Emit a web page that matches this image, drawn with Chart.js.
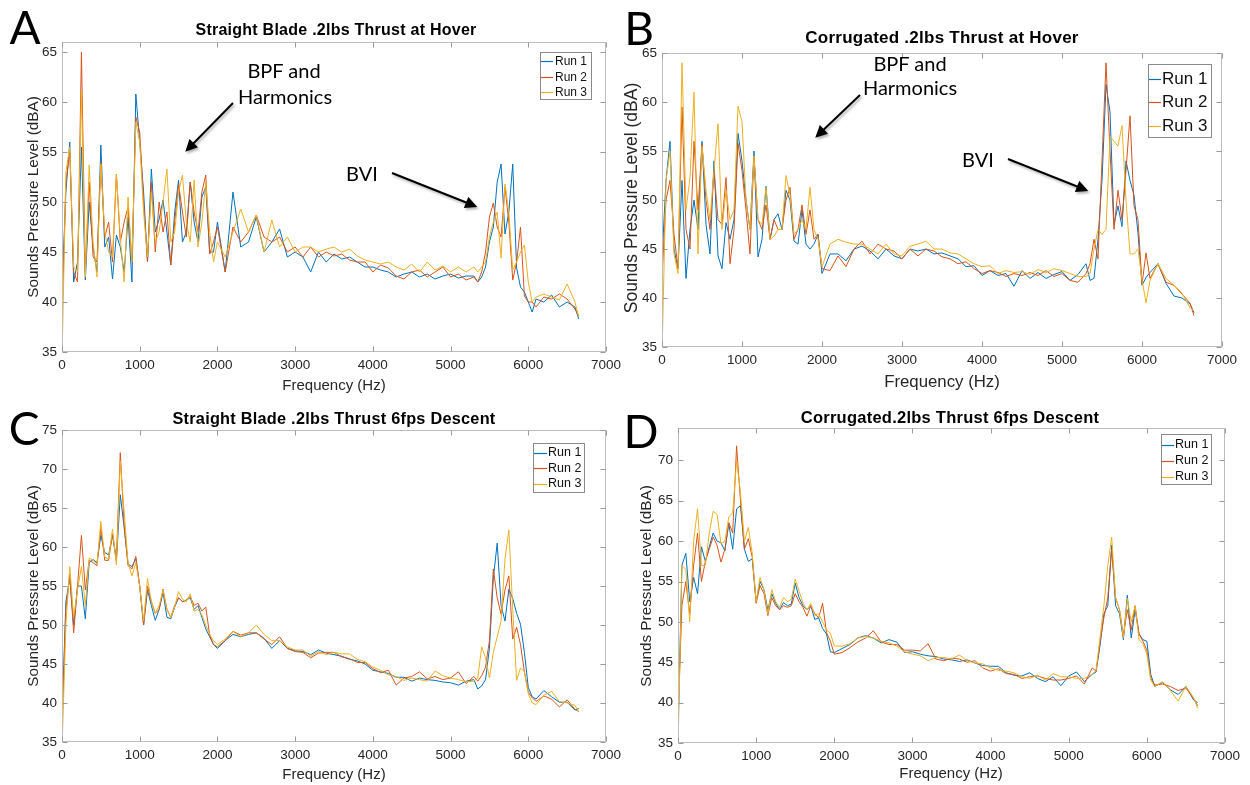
<!DOCTYPE html>
<html>
<head>
<meta charset="utf-8">
<script src="https://cdn.jsdelivr.net/npm/chart.js@4.4.1/dist/chart.umd.min.js"></script>
<style>
  body { margin:0; background:#fff; width:1250px; height:785px; position:relative; overflow:hidden;
         font-family:"Liberation Sans", Arial, sans-serif; }
  canvas { position:absolute; }
  .c { position:absolute; white-space:nowrap; transform:translate(-50%,-50%); z-index:5; }
  .ttl { font-weight:bold; color:#000; letter-spacing:0.25px; }
  .axt { color:#262626; }
  .rot { transform:translate(-50%,-50%) rotate(-90deg); }
  .big { font-family:Lato, "Open Sans", sans-serif; color:#000; }
  svg { position:absolute; left:0; top:0; z-index:6; }
</style>
</head>
<body>

<div class="c big" style="left:25px;top:26px;font-size:46px">A</div>
<div class="c big" style="left:639px;top:27px;font-size:46px">B</div>
<div class="c big" style="left:24px;top:427px;font-size:46px">C</div>
<div class="c big" style="left:641px;top:430px;font-size:46px">D</div>

<div class="c ttl" style="left:336px;top:30px;font-size:16px">Straight Blade .2lbs Thrust at Hover</div>
<div class="c ttl" style="left:942px;top:38px;font-size:17px">Corrugated .2lbs Thrust at Hover</div>
<div class="c ttl" style="left:334px;top:418px;font-size:16.3px">Straight Blade .2lbs Thrust 6fps Descent</div>
<div class="c ttl" style="left:950px;top:417px;font-size:16.5px">Corrugated.2lbs Thrust 6fps Descent</div>

<div class="c axt rot" style="left:33px;top:197px;font-size:15.3px">Sounds Pressure Level (dBA)</div>
<div class="c axt rot" style="left:631px;top:198px;font-size:17.5px">Sounds Pressure Level (dBA)</div>
<div class="c axt rot" style="left:33px;top:586px;font-size:15.3px">Sounds Pressure Level (dBA)</div>
<div class="c axt rot" style="left:646px;top:586px;font-size:15.3px">Sounds Pressure Level (dBA)</div>

<div class="c axt" style="left:334px;top:384px;font-size:15px">Frequency (Hz)</div>
<div class="c axt" style="left:942px;top:382px;font-size:16.8px">Frequency (Hz)</div>
<div class="c axt" style="left:334px;top:773px;font-size:15px">Frequency (Hz)</div>
<div class="c axt" style="left:951px;top:772px;font-size:15px">Frequency (Hz)</div>

<div class="c big" style="left:284px;top:70px;font-size:20px">BPF and</div>
<div class="c big" style="left:285px;top:96px;font-size:20px">Harmonics</div>
<div class="c big" style="left:362px;top:173px;font-size:20px">BVI</div>
<div class="c big" style="left:910px;top:63px;font-size:20px">BPF and</div>
<div class="c big" style="left:910px;top:87px;font-size:20px">Harmonics</div>
<div class="c big" style="left:978px;top:159px;font-size:20px">BVI</div>

<svg width="1250" height="785">
  <defs>
    <filter id="sh" x="-20%" y="-20%" width="140%" height="140%">
      <feDropShadow dx="1.5" dy="2" stdDeviation="1.2" flood-color="#000" flood-opacity="0.3"/>
    </filter>
    <marker id="ah" viewBox="0 0 10 10" refX="8" refY="5" markerWidth="7" markerHeight="6" orient="auto">
      <path d="M0,0 L10,5 L0,10 z" fill="#000"/>
    </marker>
  </defs>
  <g stroke="#000" stroke-width="2" filter="url(#sh)">
    <line x1="233" y1="103" x2="187" y2="150" marker-end="url(#ah)"/>
    <line x1="392" y1="173" x2="475" y2="206" marker-end="url(#ah)"/>
    <line x1="860" y1="95" x2="817" y2="136" marker-end="url(#ah)"/>
    <line x1="1008" y1="159" x2="1086" y2="190" marker-end="url(#ah)"/>
  </g>
</svg>

<script>
// frequency grid shared by every run (Hz)
const freqHz = [0, 50, 100, 150, 200, 250, 300, 350, 400, 450,
  500, 550, 600, 650, 700, 750, 800, 850, 900, 950,
  1000, 1050, 1100, 1150, 1200, 1250, 1300, 1350, 1400, 1450,
  1500, 1550, 1600, 1650, 1700, 1750, 1800, 1850, 1900, 1950,
  2000, 2100, 2200, 2300, 2400, 2500, 2600, 2700, 2800, 2900,
  3000, 3100, 3200, 3300, 3400, 3500, 3600, 3700, 3800, 3900,
  4000, 4100, 4200, 4300, 4400, 4500, 4600, 4700, 4800, 4900,
  5000, 5100, 5200, 5300, 5350, 5400, 5450, 5500, 5550, 5600,
  5650, 5700, 5750, 5800, 5850, 5900, 5950, 6000, 6050, 6100,
  6200, 6300, 6400, 6500, 6600, 6650];

const xTicks = [0, 1000, 2000, 3000, 4000, 5000, 6000, 7000];
const yTicksA = [35, 40, 45, 50, 55, 60, 65];
const yTicksB = [35, 40, 45, 50, 55, 60, 65];
const yTicksC = [35, 40, 45, 50, 55, 60, 65, 70, 75];
const yTicksD = [35, 40, 45, 50, 55, 60, 65, 70];
const runNames = ['Run 1', 'Run 2', 'Run 3'];
const runColors = ['#0072BD', '#D95319', '#EDB120'];

// A: straight blade, hover
const aRun1 = [41, 51, 56, 42, 44, 55.5, 42.2, 50, 45.5, 43,
  55.7, 45.5, 46.5, 42.3, 46.7, 45.5, 43, 48.5, 42, 60.8,
  56, 51, 44, 53.3, 47, 48.3, 50.2, 47, 43.7, 49,
  52.2, 46, 47, 52, 48, 46, 50.5, 51.5, 45, 45,
  48, 43, 51, 45.5, 46, 48.5, 45, 46, 47.3, 44.5,
  45, 44.5, 43, 45, 44, 44.8, 44.3, 44.5, 44, 43.5,
  43.5, 43.2, 43, 42.5, 42.8, 43, 42.5, 42.8, 42.3, 42.6,
  42.8, 42.4, 42.6, 42.6, 42, 42.5, 43.5, 46, 47.5, 52,
  53.8, 46.8, 49, 53.8, 43.4, 41.5, 41, 40, 39, 40.3,
  40, 40.7, 39.5, 40, 39.5, 38.3];
const aRun2 = [38, 52, 55, 43, 42, 65, 43, 52, 44.5, 44,
  54, 46.5, 48, 44, 52.8, 46, 48, 49.5, 44, 58.5,
  57, 50, 44, 52, 45, 50, 47, 49, 43.7, 48,
  51.8, 49, 46.5, 52, 49, 47, 51, 52.7, 44.8, 46,
  47.5, 43, 47.5, 46, 47, 48.7, 46.5, 46, 46.5, 45,
  45.5, 44.5, 45.5, 44.5, 45, 44.6, 44.8, 44.2, 44, 44,
  43, 43.7, 43.4, 42.6, 42.3, 43, 43.2, 42.5, 43, 43.5,
  42.5, 42.8, 42.2, 42.5, 42, 43, 45, 48.5, 49.9, 47.5,
  46.5, 51.5, 48, 42.2, 44, 47.5, 40.6, 40, 40, 39.5,
  40.5, 40.3, 40.8, 40.3, 39.3, 38.6];
const aRun3 = [34, 53, 55.5, 43.5, 43, 61, 42.5, 53.7, 46, 42.5,
  53.8, 47, 45, 44.5, 52.8, 46.5, 42, 50.5, 44, 58,
  56, 49, 44.5, 51, 46, 47, 50, 53.3, 46, 47,
  51, 52.7, 48, 46, 52.2, 45.5, 48, 52, 47, 44,
  46, 44.5, 47, 49.3, 47, 48.7, 45, 48.2, 45.5, 46.5,
  45, 45.5, 45.5, 45, 45.3, 45.5, 45, 45.3, 44.6, 44.2,
  44, 43.8, 44, 43.5, 43.2, 43.8, 43, 44, 43.2, 43.6,
  43, 43.5, 43, 43.5, 43, 43.5, 44, 46.5, 48, 49,
  44.4, 51.8, 49, 43.2, 44, 45, 45.7, 42, 40, 40.5,
  40.8, 40.5, 40.2, 41.8, 40, 38.5];

// B: corrugated, hover
const bRun1 = [44, 52, 56, 45, 43, 52, 42, 47, 50, 47,
  56, 47.5, 44.5, 54, 44.3, 43, 47.7, 46, 48, 56.8,
  54, 50, 47, 55, 44.2, 46, 51.4, 46, 48, 48.6,
  47, 51, 50, 45.8, 45.5, 49, 45.5, 45, 45.5, 46.5,
  42.5, 44.5, 44.5, 43.8, 45, 45.3, 44.8, 44, 45, 44.3,
  44, 45, 44.8, 45, 44.5, 44.6, 44.3, 44, 43.2, 43.3,
  42.3, 42.8, 42.3, 42.5, 41.2, 42.8, 42, 42.6, 42, 42.4,
  42.7, 41.8, 42.4, 43.5, 41.8, 42, 46, 52, 61.8, 59,
  47.5, 49.4, 47.3, 54, 52, 50.5, 46.6, 41.3, 42.1, 42.6,
  43.5, 41.5, 40.2, 40, 39.4, 38.5];
const bRun2 = [42, 50, 52, 46.5, 43, 59.5, 47, 45, 56, 49,
  55.7, 50, 47, 53, 48, 47.5, 52.3, 43.5, 47, 55.8,
  53, 49, 44.5, 54.5, 48, 47, 49.5, 46, 48, 47,
  47, 50, 51.3, 46, 47, 49.5, 46.5, 49, 46, 46.5,
  43, 42.8, 44.3, 43.2, 45, 45.8, 44.5, 45.5, 45, 44.8,
  44, 45, 44.3, 45, 44.8, 44.2, 44, 43.5, 43.7, 43,
  42.5, 42.8, 42.6, 42.2, 42.5, 42.3, 42.6, 42.3, 42.8, 42.2,
  42.5, 41.8, 41.6, 42.5, 43.5, 46, 44, 54, 64, 55,
  47, 51, 48, 53, 58.6, 49.4, 48, 41.4, 44.6, 42,
  43.5, 41.6, 41.3, 40.4, 39.5, 38.2];
const bRun3 = [34, 52, 55, 44.5, 42.5, 64, 49, 52.3, 61, 44.5,
  55.5, 51, 48, 53, 57.8, 47, 51, 48, 49, 59.6,
  58, 50, 47, 54.5, 48, 47.5, 51.3, 46, 46.3, 47,
  47, 52.5, 50.5, 46.5, 47, 48, 47, 51.3, 47, 46,
  43.2, 45.5, 46, 45.7, 45.5, 45.5, 45, 44.5, 45.5, 44.5,
  44.3, 45.3, 45.5, 45.8, 45, 45, 44.6, 44.5, 44, 43.5,
  43.2, 43.3, 42.5, 42.8, 42.6, 42.7, 42.4, 42.9, 42.6, 43,
  42.8, 42.5, 42.2, 42.2, 42.5, 45, 47, 46.5, 47, 56.5,
  56, 55.5, 57.6, 50, 44.5, 44.5, 45, 41.9, 39.5, 41.8,
  43.5, 42, 41.3, 40.5, 39, 38.7];

// C: straight blade, 6 fps descent
const cRun1 = [38, 53, 56, 50, 55, 55, 50.8, 58, 58.4, 58,
  61.5, 59.3, 59, 61.5, 58.2, 66.7, 62.5, 57.8, 57.5, 58.5,
  55, 50, 54.5, 52.5, 50.6, 52, 54.2, 51, 50.8, 52.3,
  53.5, 53, 53.2, 53.5, 52, 52.5, 51, 49.5, 48.5, 47.5,
  47, 48, 48.8, 48.5, 48.8, 49, 48.3, 47, 48, 47,
  46.7, 46.6, 46.2, 46.8, 46.4, 46.2, 46, 45.6, 45.4, 45,
  44.2, 44, 43.8, 43.3, 43.3, 42.8, 43.2, 43, 42.9, 42.7,
  42.6, 42.3, 42.8, 43, 41.8, 42.2, 43, 47, 56, 60.5,
  52.5, 50.5, 54.6, 53.4, 51.5, 50.1, 46.5, 42, 40.8, 40.5,
  41.6, 40.8, 40.1, 40.1, 39.1, 39.3];
const cRun2 = [37, 52, 56.5, 49, 55, 61.5, 54.5, 58.3, 58, 57.6,
  62.5, 58.3, 58.3, 61.7, 58.5, 72.1, 62.8, 57.6, 57.2, 58.8,
  55, 50, 55, 53, 51.5, 52, 54.6, 52, 51, 52.5,
  53.5, 53, 53.2, 53.7, 52.5, 52.8, 51.8, 52.3, 48.7, 47.5,
  47.2, 48, 49.2, 48.7, 49, 49, 48.2, 47.5, 48.5, 47,
  46.6, 46.5, 45.8, 46.4, 46.5, 46.5, 45.9, 45.7, 45.2, 45.2,
  44.4, 43.9, 44.2, 42.3, 43.2, 43.4, 44, 43.1, 43.4, 43,
  43.2, 44, 42.5, 43.4, 42.8, 43.5, 44.6, 48, 57.2, 53.5,
  51.4, 54.5, 56.3, 48.2, 49.7, 47.5, 44, 41.4, 40.7, 40.2,
  40.9, 40.5, 39.5, 40.4, 39.2, 38.9];
const cRun3 = [34, 50, 57.5, 51, 54.5, 57.5, 52.5, 58.6, 58.3, 57.8,
  63.3, 58.7, 58.5, 62.3, 57.7, 71, 64.5, 58, 56.3, 58,
  55, 50.5, 56, 53, 51.5, 52.5, 54.5, 52, 51, 52.3,
  54.3, 53.3, 53, 54, 51.8, 52, 51.3, 50, 48.8, 48,
  47.5, 48.2, 49.2, 48.5, 49, 50, 48.8, 48, 48, 47.2,
  46.8, 46.8, 46, 46.6, 46.2, 46.5, 46.3, 46.3, 45.6, 45.3,
  44.6, 44.2, 43.6, 43.4, 42.9, 43.2, 43, 42.8, 44.1, 43.5,
  43.2, 43, 42.7, 42.8, 43.2, 47.2, 45.8, 43.2, 46.5, 48.5,
  50.5, 58.5, 62.2, 52, 42.9, 44.5, 44, 41.2, 40, 39.8,
  41, 41.5, 40.2, 40, 39.7, 38.9];

// D: corrugated, 6 fps descent
const dRun1 = [36, 57, 58.5, 52.5, 55.5, 53.5, 59.3, 57.5, 59.3, 61,
  60, 59.8, 58.8, 62.2, 59, 64, 64.4, 59, 57.5, 57.8,
  52.5, 55, 54, 51.5, 53.5, 52.3, 51.5, 52.4, 52, 52.2,
  54.8, 53, 52, 51.5, 52, 50.3, 50.5, 49.2, 48.5, 46.3,
  46.2, 46.7, 47.2, 48, 48.3, 48, 47.4, 47.8, 47.5, 46.2,
  46.3, 46, 45.8, 45.7, 45.4, 45.3, 45.1, 45.3, 44.9, 44.6,
  44.5, 44.5, 43.7, 43.4, 43.3, 43.7, 43, 42.6, 43.2, 42.1,
  43.3, 43.8, 42.6, 43.5, 43.8, 47, 51, 52, 59.5, 52,
  51, 47.8, 53.3, 48, 51.5, 48.5, 47.8, 47.6, 43.5, 42,
  42.5, 41.6, 41, 42, 40.3, 40];
const dRun2 = [38, 52, 55, 51, 57, 61, 55, 57.5, 59, 60.5,
  59.5, 57.4, 59, 62.3, 61, 71.8, 65, 59, 60.3, 58,
  52.3, 54.5, 53.5, 50.8, 53, 52, 51.5, 52, 51.8, 52,
  53.5, 52.5, 51.8, 50.7, 52, 51, 50.5, 52.3, 48.7, 47.6,
  46, 46.2, 46.8, 47.5, 48, 48.9, 47.5, 47.2, 47.2, 46.5,
  46.5, 46.4, 47.3, 45.4, 45.2, 45.5, 45.4, 45, 45.2, 44.3,
  43.9, 44.2, 43.6, 43.5, 43, 43.2, 43.3, 43, 42.8, 42.8,
  43, 43.3, 42.3, 44.3, 43.9, 47.5, 50.5, 53, 59, 53,
  51.5, 48.3, 51.5, 49, 52, 48.5, 47.6, 46.5, 43, 42.2,
  42.3, 42, 41.5, 41.8, 40.5, 39.6];
const dRun3 = [34, 57, 56.5, 50, 60, 64, 57, 57, 61, 63.7,
  63.3, 59.7, 60, 63, 63.5, 70, 66, 60, 61.7, 58.5,
  52.5, 55.5, 54, 51, 54, 52.5, 51.8, 53, 52.5, 52.8,
  55.3, 53.8, 52.3, 51.5, 52.3, 50.8, 51, 50, 49, 48.6,
  47, 47, 47.3, 48, 48.2, 48, 47.6, 47.4, 47, 46.3,
  46, 45.8, 45.2, 45.6, 45.6, 45.4, 45.9, 45.2, 44.9, 44.8,
  44.3, 44, 43.9, 43.7, 43.2, 43, 43.4, 42.8, 43.6, 43.2,
  43.2, 43, 43, 43.5, 44, 48, 52, 57, 60.5, 53,
  51.5, 48, 52.9, 50, 52, 47.8, 47.3, 46, 42.8, 42,
  42.6, 41.5, 40.2, 42, 40.6, 39.3];

// page layout of each panel: plot box [left, top, width, height] and legend box
const panels = [
  { runs: [aRun1, aRun2, aRun3], yTicks: yTicksA, yMax: 66, box: [62, 41, 544, 311],
    legend: { x: 540, y: 52, w: 51, h: 47, rows: [61, 77, 92], size: 12, l0: 541, l1: 553, tx: 555 } },
  { runs: [bRun1, bRun2, bRun3], yTicks: yTicksB, yMax: 65, box: [662, 52, 560, 295],
    legend: { x: 1148, y: 64, w: 63, h: 73, rows: [79, 102, 126], size: 17, l0: 1149, l1: 1161, tx: 1162 } },
  { runs: [cRun1, cRun2, cRun3], yTicks: yTicksC, yMax: 75, box: [62, 429, 544, 313],
    legend: { x: 533, y: 443, w: 51, h: 49, rows: [452.5, 468, 483.5], size: 12.5, l0: 534, l1: 547, tx: 548 } },
  { runs: [dRun1, dRun2, dRun3], yTicks: yTicksD, yMax: 74, box: [678, 427, 547, 316],
    legend: { x: 1161, y: 434, w: 50, h: 50, rows: [444.5, 460.5, 476.5], size: 12.5, l0: 1162, l1: 1174, tx: 1175 } }
];

// MATLAB-like box with inward ticks on all four sides, plus the legend
const framePlugin = {
  id: 'frame',
  afterDatasetsDraw(chart, args, opts) {
    const { ctx, chartArea: a, scales: { x, y } } = chart;
    const L = Math.round(a.left) + 0.5, R = Math.round(a.right) - 0.5;
    const T = Math.round(a.top) + 0.5, B = Math.round(a.bottom) - 0.5;
    ctx.save();
    ctx.lineWidth = 1;
    ctx.strokeStyle = '#bdbdbd';
    ctx.strokeRect(L, T, R - L, B - T);
    ctx.strokeStyle = '#9a9a9a';
    ctx.beginPath();
    x.ticks.forEach(t => {
      const px = Math.round(x.getPixelForValue(t.value)) + 0.5;
      ctx.moveTo(px, B); ctx.lineTo(px, B - 5);
      ctx.moveTo(px, T); ctx.lineTo(px, T + 5);
    });
    y.ticks.forEach(t => {
      const py = Math.round(y.getPixelForValue(t.value)) + 0.5;
      ctx.moveTo(L, py); ctx.lineTo(L + 5, py);
      ctx.moveTo(R, py); ctx.lineTo(R - 5, py);
    });
    ctx.stroke();

    const lg = opts.legend, ox = opts.off[0], oy = opts.off[1];
    ctx.fillStyle = '#fff';
    ctx.fillRect(lg.x - ox, lg.y - oy, lg.w, lg.h);
    ctx.strokeStyle = '#8a8a8a';
    ctx.strokeRect(lg.x - ox + 0.5, lg.y - oy + 0.5, lg.w, lg.h);
    ctx.font = lg.size + 'px "Liberation Sans", Arial, sans-serif';
    ctx.textBaseline = 'middle';
    chart.data.datasets.forEach((ds, k) => {
      const yy = lg.rows[k] - oy;
      ctx.strokeStyle = ds.borderColor;
      ctx.lineWidth = 1.2;
      ctx.beginPath();
      ctx.moveTo(lg.l0 - ox, Math.round(yy) + 0.5);
      ctx.lineTo(lg.l1 - ox, Math.round(yy) + 0.5);
      ctx.stroke();
      ctx.fillStyle = '#111';
      ctx.fillText(ds.label, lg.tx - ox, yy + 0.5);
    });
    ctx.restore();
  }
};

panels.forEach(p => {
  const [L, T, W, H] = p.box;
  const cl = L - 62, ct = T - 12;
  const cv = document.createElement('canvas');
  cv.width = W + 92; cv.height = H + 62;
  cv.style.left = cl + 'px'; cv.style.top = ct + 'px';
  document.body.appendChild(cv);

  const tickFont = { family: '"Liberation Sans", Arial, sans-serif', size: 13.5 };
  new Chart(cv.getContext('2d'), {
    type: 'line',
    data: {
      datasets: p.runs.map((run, k) => ({
        label: runNames[k],
        data: freqHz.map((f, i) => ({ x: f, y: run[i] })),
        borderColor: runColors[k],
        borderWidth: 1,
        pointRadius: 0,
        tension: 0,
        order: 2 - k
      }))
    },
    options: {
      responsive: false,
      animation: false,
      events: [],
      layout: { padding: { left: 0, top: 12, right: 30, bottom: 0 } },
      plugins: {
        legend: { display: false },
        tooltip: { enabled: false },
        frame: { legend: p.legend, off: [cl, ct] }
      },
      scales: {
        x: {
          type: 'linear', min: 0, max: 7000,
          grid: { display: false, drawTicks: false },
          border: { display: false },
          ticks: { padding: 5, color: '#262626', font: tickFont, maxRotation: 0, autoSkip: false,
                   callback: v => String(v) },
          afterBuildTicks: s => { s.ticks = xTicks.map(v => ({ value: v })); },
          afterFit: s => { s.height = 50; }
        },
        y: {
          min: 35, max: p.yMax,
          grid: { display: false, drawTicks: false },
          border: { display: false },
          ticks: { padding: 5, color: '#262626', font: tickFont, autoSkip: false,
                   callback: v => String(v) },
          afterBuildTicks: s => { s.ticks = p.yTicks.map(v => ({ value: v })); },
          afterFit: s => { s.width = 62; }
        }
      }
    },
    plugins: [framePlugin]
  });
});
</script>
</body>
</html>
